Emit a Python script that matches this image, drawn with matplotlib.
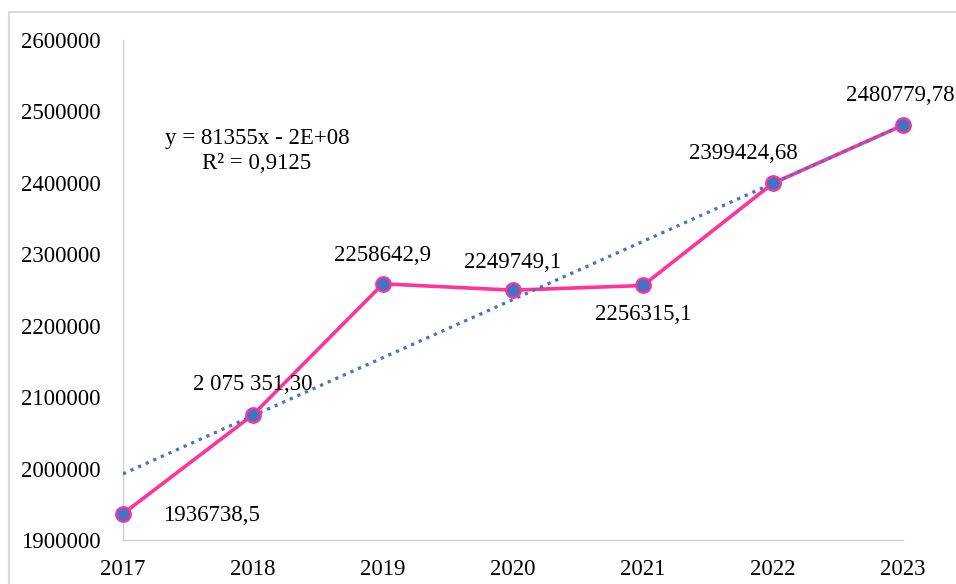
import matplotlib
matplotlib.use("Agg")
import matplotlib.pyplot as plt
import numpy as np
from matplotlib.patches import Rectangle

years = [2017, 2018, 2019, 2020, 2021, 2022, 2023]
values = [1936738.5, 2075351.30, 2258642.9, 2249749.1, 2256315.1, 2399424.68, 2480779.78]
labels = ["1936738,5", "2 075 351,30", "2258642,9", "2249749,1", "2256315,1", "2399424,68", "2480779,78"]
yticks = [1900000, 2000000, 2100000, 2200000, 2300000, 2400000, 2500000, 2600000]
equation = "y = 81355x - 2E+08\nR² = 0,9125"

plt.rcParams['font.family'] = ['Liberation Serif', 'DejaVu Serif']
FS = 16.5

fig = plt.figure(figsize=(9.56, 5.84), dpi=100)
ax = fig.add_axes([123/956, 1-540/584, (903-123)/956, 500/584])

# chart frame
fig.patches.append(Rectangle((9/956, -0.1), 2.0, 1 - 12/584 + 0.1, transform=fig.transFigure,
                             fill=False, edgecolor='#D9D9D9', linewidth=1.5))

x = np.array(years, dtype=float)
y = np.array(values)
coef = np.polyfit(x, y, 1)

ax.plot(x, y, color='#FF3399', linewidth=2.6, zorder=3, clip_on=False)
ax.plot(x, np.polyval(coef, x), color='#4472C4', linewidth=2.3, linestyle=(0, (1, 1.6)), zorder=4)
ax.plot(x, y, linestyle='none', marker='o', markersize=10.5,
        markerfacecolor='#4472C4', markeredgecolor='#FF3399', markeredgewidth=1.6,
        zorder=5, clip_on=False)

offsets = [(40, -2, 'left'), (0, 30, 'center'), (0, 28, 'center'), (0, 28, 'center'),
           (0, -29, 'center'), (-30, 30, 'center'), (-3, 30, 'center')]
for xi, yi, lab, (dx, dy, ha) in zip(x, y, labels, offsets):
    ax.annotate(lab, (xi, yi), xytext=(dx, dy), textcoords='offset pixels',
                ha=ha, va='center', fontsize=FS, color='black', zorder=6)

ax.text(257/956, 1 - 151/584, equation, transform=fig.transFigure, ha='center', va='center',
        multialignment='center', fontsize=FS, linespacing=1.3)

ax.set_xlim(2017, 2023)
ax.set_ylim(1900000, 2600000)
ax.set_xticks(years)
ax.set_xticklabels([str(v) for v in years])
ax.set_yticks(yticks)
ax.set_yticklabels([str(v) for v in yticks])
ax.tick_params(axis='both', length=0, labelsize=FS)
ax.tick_params(axis='y', pad=16)
ax.tick_params(axis='x', pad=14)
for s in ['top', 'right']:
    ax.spines[s].set_visible(False)
for s in ['left', 'bottom']:
    ax.spines[s].set_color('#D0D0D0')
    ax.spines[s].set_linewidth(1.0)

fig.savefig('out.png', dpi=100)
